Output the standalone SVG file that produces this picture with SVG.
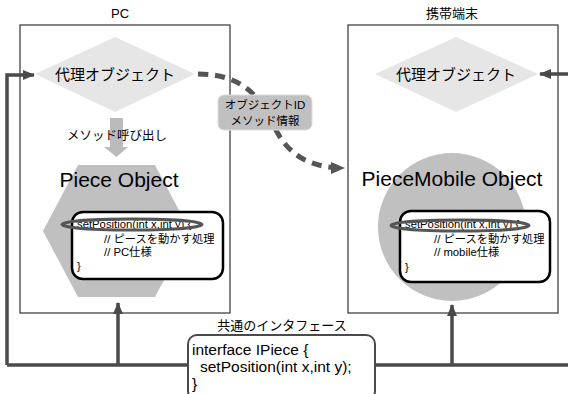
<svg xmlns="http://www.w3.org/2000/svg" width="568" height="394" viewBox="0 0 568 394">
<style>
text{font-family:"Liberation Sans","Noto Sans CJK JP",sans-serif;fill:#000}
.frame{fill:#fff;stroke:#333;stroke-width:1.2}
.dia{fill:#e6e6e6}
.big{font-size:21px;text-anchor:middle}
.dl{font-size:15px;text-anchor:middle}
.code{fill:#fff;stroke:#000;stroke-width:2.5}
.ct{font-size:11.3px}
.it{font-size:15.5px}
.oval{fill:none;stroke:#555;stroke-width:3}
.conn{fill:none;stroke:#4a4a4a;stroke-width:3.5}
</style>
<defs>
<marker id="ah" markerWidth="12" markerHeight="10" refX="11" refY="5" orient="auto" markerUnits="userSpaceOnUse">
<path d="M0,0 L12,5 L0,10 Z" fill="#4a4a4a"/>
</marker>
<marker id="ahd" markerWidth="14" markerHeight="12" refX="13" refY="6" orient="auto" markerUnits="userSpaceOnUse">
<path d="M0,0 L14,6 L0,12 Z" fill="#555"/>
</marker>
</defs>

<g id="pc">
<rect class="frame" x="20" y="25" width="210" height="288"/>
<text x="120" y="18" font-size="13" text-anchor="middle">PC</text>
</g>
<g id="mobile">
<rect class="frame" x="348" y="25" width="210" height="288"/>
<text x="452" y="18" font-size="13" text-anchor="middle">携帯端末</text>
</g>

<g id="pc-proxy">
<polygon class="dia" points="115,37 195,74 115,112 35,74"/>
<text class="dl" x="115" y="80">代理オブジェクト</text>
</g>
<g id="mobile-proxy">
<polygon class="dia" points="456,37 538,74 456,112 375,74"/>
<text class="dl" x="456" y="80">代理オブジェクト</text>
</g>

<g id="call">
<polygon points="110,118 123,118 123,147 128,147 116.5,157 104,147 110,147" fill="#bbb"/>
<text x="117" y="140" font-size="12.5" text-anchor="middle">メソッド呼び出し</text>
</g>

<g id="piece">
<polygon points="78,165 155,165 190,231 155,297 78,297 43,231" fill="#c0c0c0"/>
<text class="big" x="119" y="187">Piece Object</text>
<rect class="code" x="72" y="212" width="151" height="67" rx="11"/>
<text class="ct" x="77" y="228">setPosition(int x,int y) {</text>
<text class="ct" x="104" y="243">// ピースを動かす処理</text>
<text class="ct" x="104" y="256">// PC仕様</text>
<text class="ct" x="77" y="270">}</text>
<ellipse class="oval" cx="132" cy="224.5" rx="70" ry="5.5"/>
</g>

<g id="piecemobile">
<circle cx="452" cy="227" r="74" fill="#c0c0c0"/>
<text class="big" x="452" y="186">PieceMobile Object</text>
<rect class="code" x="400" y="211" width="150" height="71" rx="11"/>
<text class="ct" x="405" y="228">setPosition(int x,int y) {</text>
<text class="ct" x="434" y="243">// ピースを動かす処理</text>
<text class="ct" x="434" y="256">// mobile仕様</text>
<text class="ct" x="405" y="271">}</text>
<ellipse class="oval" cx="460" cy="225.5" rx="69" ry="5.5"/>
</g>

<g id="connectors">
<path class="conn" d="M7,365 L7,75 L34,75" marker-end="url(#ah)"/>
<path class="conn" d="M568,74 L540,74" marker-end="url(#ah)"/>
<path class="conn" d="M7,365 L188,365"/>
<path class="conn" d="M375,365 L568,365"/>
<path class="conn" d="M118,365 L118,303" marker-end="url(#ah)"/>
<path class="conn" d="M452,365 L452,305" marker-end="url(#ah)"/>
<path d="M198,74 C245,74 262,100 275,128 C288,155 310,168 344,168" fill="none" stroke="#555" stroke-width="5" stroke-dasharray="10,7" marker-end="url(#ahd)"/>
</g>

<g id="msg-label">
<rect x="218" y="95" width="94" height="35" rx="6" fill="#c0c0c0" stroke="#ddd" stroke-width="1"/>
<text x="265" y="109" font-size="11.5" text-anchor="middle">オブジェクトID</text>
<text x="265" y="125" font-size="11.5" text-anchor="middle">メソッド情報</text>
</g>

<g id="interface">
<text x="282" y="330" font-size="13" text-anchor="middle">共通のインタフェース</text>
<rect x="188" y="335" width="187" height="65" rx="9" fill="#fff" stroke="#4a4a4a" stroke-width="2"/>
<text class="it" x="192" y="355">interface IPiece {</text>
<text class="it" x="200" y="372">setPosition(int x,int y);</text>
<text class="it" x="192" y="389">}</text>
</g>
</svg>
